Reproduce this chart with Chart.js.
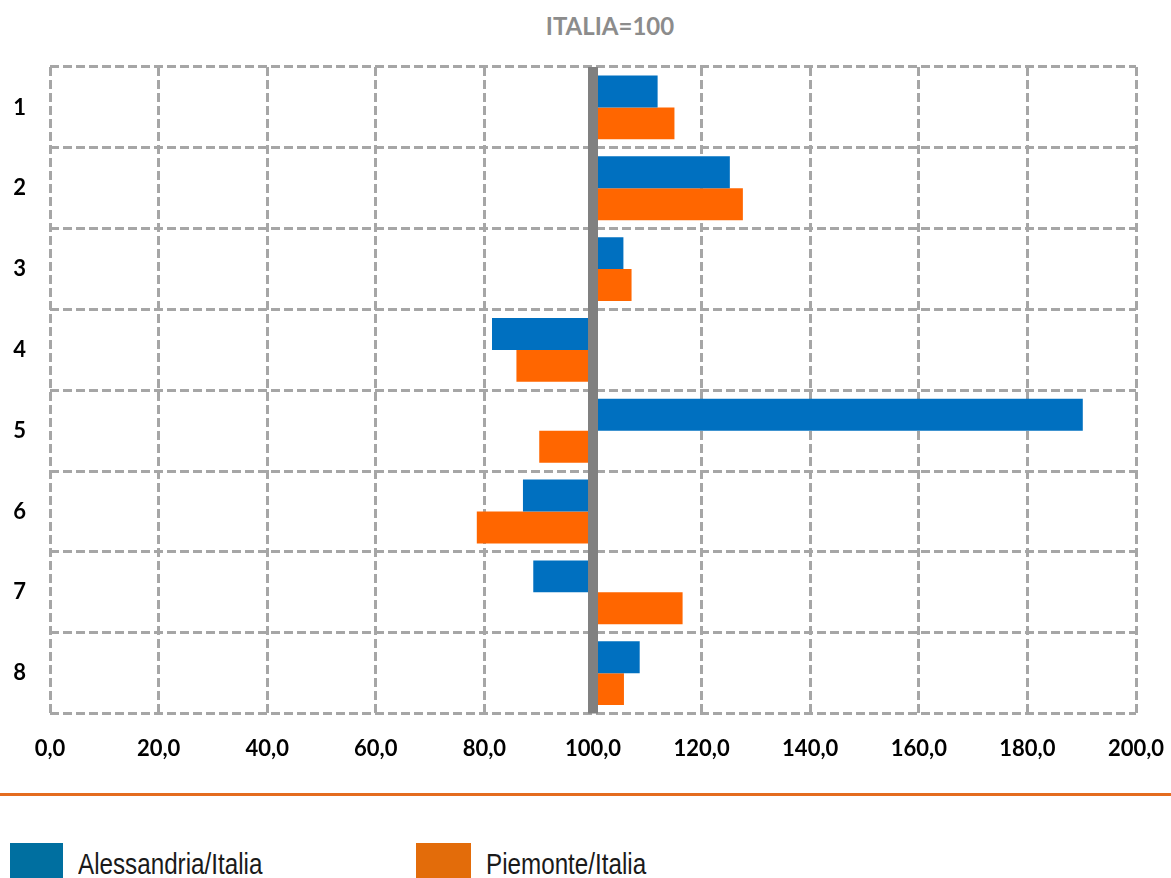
<!DOCTYPE html>
<html>
<head>
<meta charset="utf-8">
<script src="https://cdn.jsdelivr.net/npm/chart.js@4/dist/chart.umd.min.js"></script>
<style>
  body { margin: 0; background: #fff; width: 1171px; height: 878px; overflow: hidden; position: relative; }
  #title { position: absolute; top: 11px; left: 0; width: 1220px; text-align: center; font: bold 24px Lato, sans-serif; color: #8c8c8c; }
  #chartBox { position: absolute; top: 0; left: 0; width: 1171px; height: 790px; }
  #sep { position: absolute; top: 793px; left: 0; width: 1171px; height: 3px; background: #e46c1f; }
  .leg-box { position: absolute; top: 843px; height: 40px; }
  .leg-text { position: absolute; top: 850px; font: 29px "Liberation Sans", Arial, sans-serif; color: #1a1a1a; line-height: 1; transform: scaleX(0.835); transform-origin: left top; white-space: nowrap; }
</style>
</head>
<body>
<div id="title">ITALIA=100</div>
<div id="chartBox"><canvas id="chart"></canvas></div>
<div id="sep"></div>
<div id="legend"></div>
<script>
  // dati
  const categories = ['1', '2', '3', '4', '5', '6', '7', '8']
  const alessandria = [111.9, 125.2, 105.6, 81.4, 190.2, 87.1, 89.0, 108.6]
  const piemonte = [115.0, 127.6, 107.1, 85.9, 90.1, 78.6, 116.5, 105.7]
  const xTicks = [0, 20, 40, 60, 80, 100, 120, 140, 160, 180, 200]
  const seriesNames = ['Alessandria/Italia', 'Piemonte/Italia']

  // linea verticale a 100
  const baseLine = {
    id: 'baseLine',
    afterDatasetsDraw: (chart) => {
      const { ctx, chartArea, scales } = chart
      const x = scales.x.getPixelForValue(100)
      ctx.save()
      ctx.strokeStyle = '#808080'
      ctx.lineWidth = 10
      ctx.beginPath()
      ctx.moveTo(x, chartArea.top)
      ctx.lineTo(x, chartArea.bottom)
      ctx.stroke()
      ctx.restore()
    }
  }

  const tickFont = { family: 'Lato', weight: 'bold', size: 22 }

  new Chart(document.getElementById('chart'), {
    type: 'bar',
    data: {
      labels: categories,
      datasets: [
        { label: seriesNames[0], data: alessandria, base: 100, backgroundColor: '#0070c0' },
        { label: seriesNames[1], data: piemonte, base: 100, backgroundColor: '#ff6600' }
      ]
    },
    options: {
      indexAxis: 'y',
      responsive: true,
      maintainAspectRatio: false,
      animation: false,
      categoryPercentage: 0.79,
      barPercentage: 1,
      layout: { padding: { top: 67, left: 0, right: 0, bottom: 6 } },
      plugins: {
        legend: { display: false },
        tooltip: { enabled: false }
      },
      scales: {
        x: {
          min: 0,
          max: 200,
          afterBuildTicks: (scale) => { scale.ticks = xTicks.map(v => ({ value: v })) },
          afterFit: (scale) => { scale.paddingLeft = 0; scale.paddingRight = 35 },
          ticks: {
            color: '#000',
            font: tickFont,
            padding: 22,
            maxRotation: 0,
            callback: (v) => Number(v).toFixed(1).replace('.', ',')
          },
          grid: { color: '#a6a6a6', lineWidth: 3, drawTicks: false },
          border: { display: false, dash: [9, 4] }
        },
        y: {
          afterFit: (scale) => { scale.width = 50 },
          ticks: { color: '#000', font: tickFont, padding: 24 },
          grid: { color: '#a6a6a6', lineWidth: 3, drawTicks: false, offset: true },
          border: { display: false, dash: [9, 4] }
        }
      }
    },
    plugins: [baseLine]
  })

  // legenda
  const legendColors = ['#006fa0', '#e36c0a']
  const legendLeft = [10, 416]
  const legendWidth = [53, 55]
  const legendTextLeft = [78, 486]
  const legend = document.getElementById('legend')
  seriesNames.forEach((name, i) => {
    const box = document.createElement('div')
    box.className = 'leg-box'
    box.style.left = legendLeft[i] + 'px'
    box.style.width = legendWidth[i] + 'px'
    box.style.background = legendColors[i]
    const txt = document.createElement('div')
    txt.className = 'leg-text'
    txt.style.left = legendTextLeft[i] + 'px'
    txt.textContent = name
    legend.append(box, txt)
  })
</script>
</body>
</html>
